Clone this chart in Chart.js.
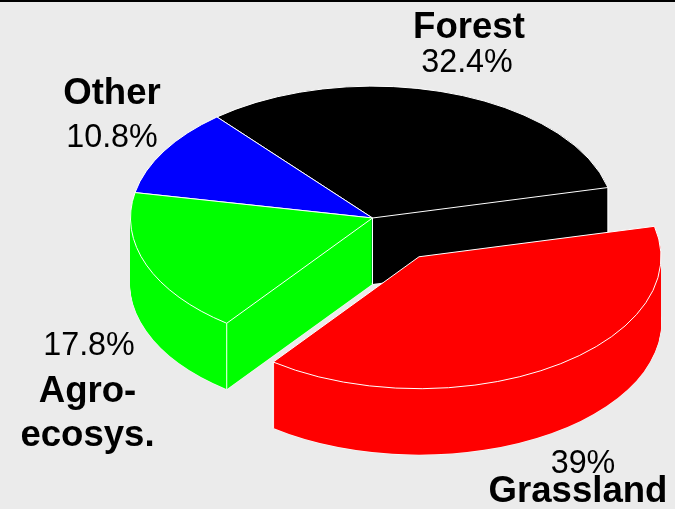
<!DOCTYPE html>
<html>
<head>
<meta charset="utf-8">
<style>
  html, body { margin: 0; padding: 0; background: #ebebeb; overflow: hidden; }
  #topline { position: absolute; left: 0; top: 0; width: 675px; height: 2px; background: #000; }
  canvas { display: block; }
</style>
</head>
<body>
<canvas id="canvas" width="675" height="509"></canvas>
<div id="topline"></div>
<script src="https://cdn.jsdelivr.net/npm/chart.js@4"></script>
<script>
let categories = ['Forest', 'Grassland', 'Agro-\necosys.', 'Other'];
let shares = [32.4, 39, 17.8, 10.8];
let colors = ['#000000', '#ff0000', '#00ff00', '#0000ff'];

// look of the fake 3d pie
let tilt = 0.545;
let depth = 66;
let explode = [0, 85, 0, 0];
let paintOrder = [0, 3, 2, 1];

// text anchors: name x/y, then percent x/y
let labelPlaces = [
  { nameX: 469, nameY: 38, valX: 467, valY: 72 },
  { nameX: 578, nameY: 502, valX: 583, valY: 473 },
  { nameX: 87.5, nameY: 402, valX: 89, valY: 355 },
  { nameX: 112, nameY: 104, valX: 112, valY: 147 }
];

function outline(ctx, arc, cx, cy) {
  ctx.beginPath();
  ctx.ellipse(cx, cy, arc.outerRadius, arc.outerRadius * tilt, 0, arc.startAngle, arc.endAngle);
  ctx.lineTo(cx, cy);
  ctx.closePath();
  ctx.stroke();
}

function vertical(ctx, x, y) {
  ctx.beginPath();
  ctx.moveTo(x, y);
  ctx.lineTo(x, y + depth);
  ctx.stroke();
}

function cornerLine(ctx, arc, cx, cy, angle) {
  vertical(ctx, cx + Math.cos(angle) * arc.outerRadius, cy + Math.sin(angle) * arc.outerRadius * tilt);
}

let pie3d = {
  id: 'pie3d',
  beforeDatasetsDraw(chart) {
    let ctx = chart.ctx;
    let arcs = chart.getDatasetMeta(0).data;
    paintOrder.forEach(i => {
      let arc = arcs[i];
      let mid = (arc.startAngle + arc.endAngle) / 2;
      let cx = arc.x + Math.cos(mid) * explode[i];
      let cy = arc.y + Math.sin(mid) * explode[i] * tilt;

      ctx.strokeStyle = '#ffffff';
      ctx.lineWidth = 1;
      ctx.lineJoin = 'round';
      outline(ctx, arc, cx, cy + depth);

      // side walls: the same arc stacked downwards, top face is the last one
      for (let d = depth; d >= 0; d--) {
        ctx.save();
        ctx.translate(cx, cy + d);
        ctx.scale(1, tilt);
        ctx.translate(-arc.x, -arc.y);
        arc.draw(ctx);
        ctx.restore();
      }

      outline(ctx, arc, cx, cy);

      // vertical edges, only where they face the viewer
      let startFaces = Math.cos(arc.startAngle) < 0;
      let endFaces = Math.cos(arc.endAngle) > 0;
      if (startFaces || endFaces) vertical(ctx, cx, cy);
      if (Math.sin(arc.startAngle) > 0) cornerLine(ctx, arc, cx, cy, arc.startAngle);
      if (endFaces || Math.sin(arc.endAngle) > 0) cornerLine(ctx, arc, cx, cy, arc.endAngle);
    });
    return false;
  },
  afterDraw(chart) {
    let ctx = chart.ctx;
    ctx.save();
    ctx.fillStyle = '#000000';
    ctx.textAlign = 'center';
    ctx.textBaseline = 'alphabetic';
    categories.forEach((name, i) => {
      let p = labelPlaces[i];
      ctx.font = 'bold 36.6px "Liberation Sans"';
      name.split('\n').forEach((line, n) => {
        ctx.fillText(line, p.nameX, p.nameY + n * 44);
      });
      ctx.font = '32.3px "Liberation Sans"';
      ctx.fillText(shares[i] + '%', p.valX, p.valY);
    });
    ctx.restore();
  }
};

new Chart(document.getElementById('canvas').getContext('2d'), {
  type: 'pie',
  data: {
    labels: categories,
    datasets: [{
      data: shares,
      backgroundColor: colors,
      borderWidth: 0,
      clip: false
    }]
  },
  options: {
    responsive: false,
    animation: false,
    rotation: -40,
    radius: 242,
    layout: { padding: { left: 70, bottom: 73 } },
    plugins: {
      legend: { display: false },
      tooltip: { enabled: false }
    }
  },
  plugins: [pie3d]
});
</script>
</body>
</html>
